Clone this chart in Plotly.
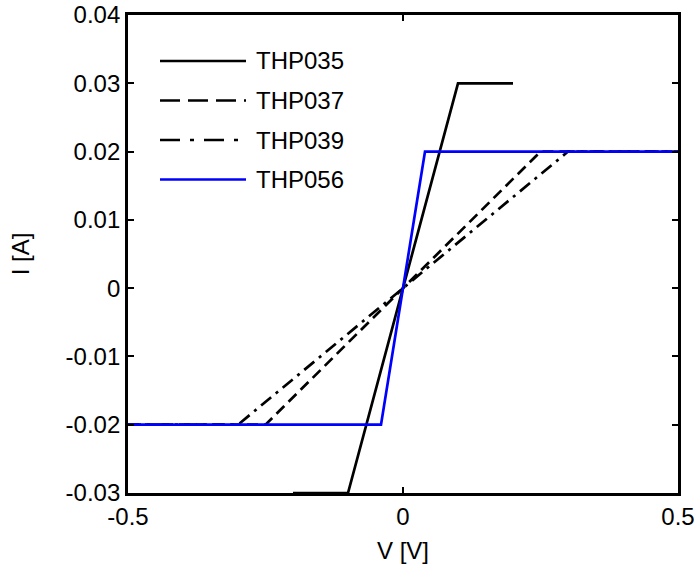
import plotly.graph_objects as go

# I-V characteristics of the four samples
v_thp035 = [-0.2, -0.1, 0.1, 0.2]
i_thp035 = [-0.03, -0.03, 0.03, 0.03]

v_thp037 = [-0.5, -0.25, 0.25, 0.5]
i_thp037 = [-0.02, -0.02, 0.02, 0.02]

v_thp039 = [-0.5, -0.3, 0.3, 0.5]
i_thp039 = [-0.02, -0.02, 0.02, 0.02]

v_thp056 = [-0.5, -0.04, 0.04, 0.5]
i_thp056 = [-0.02, -0.02, 0.02, 0.02]

series_names = ["THP035", "THP037", "THP039", "THP056"]
series_v = [v_thp035, v_thp037, v_thp039, v_thp056]
series_i = [i_thp035, i_thp037, i_thp039, i_thp056]
series_color = ["black", "black", "black", "#0000ff"]
series_dash = ["solid", "11px,6px", "13px,6px,3px,6px", "solid"]

x_ticks = [-0.5, 0, 0.5]
x_ticktext = ["-0.5", "0", "0.5"]
y_ticks = [-0.03, -0.02, -0.01, 0, 0.01, 0.02, 0.03, 0.04]
y_ticktext = ["-0.03", "-0.02", "-0.01", "0", "0.01", "0.02", "0.03", "0.04"]

FONT = "Liberation Sans, Arial, sans-serif"

fig = go.Figure()
for name, v, i, c, d in zip(series_names, series_v, series_i, series_color, series_dash):
    fig.add_trace(go.Scatter(x=v, y=i, mode="lines", name=name,
                             line=dict(color=c, width=2.7, dash=d),
                             showlegend=False))

# hand-drawn legend in the upper-left corner of the axes
legend_dash = ["solid", "20px,8px", "20px,10px,4px,10px", "solid"]
W, H = 550.0, 478.0
x0p, x1p, xtp = (160 - 128) / W, (246 - 128) / W, (254 - 128) / W
for k, (name, c, d) in enumerate(zip(series_names, series_color, legend_dash)):
    yp = (493 - (61 + 39.5 * k)) / H
    fig.add_shape(type="line", xref="paper", yref="paper",
                  x0=x0p, x1=x1p, y0=yp, y1=yp,
                  line=dict(color=c, width=2.7, dash=d))
    fig.add_annotation(xref="paper", yref="paper", x=xtp, y=yp,
                       text=name, showarrow=False, xanchor="left", yanchor="middle",
                       font=dict(family=FONT, size=24, color="black"))

axis_common = dict(showline=True, linecolor="black", linewidth=2.8, mirror="ticks",
                   ticks="inside", ticklen=6, tickwidth=2, tickcolor="black",
                   showgrid=False, zeroline=False,
                   tickfont=dict(family=FONT, size=24, color="black"))

fig.update_xaxes(range=[-0.5, 0.5], tickvals=x_ticks, ticktext=x_ticktext,
                 title=dict(text="V [V]", font=dict(family=FONT, size=24, color="black"),
                            standoff=14),
                 **axis_common)
fig.update_yaxes(range=[-0.03, 0.04], tickvals=y_ticks, ticktext=y_ticktext,
                 title=dict(text="I [A]", font=dict(family=FONT, size=24, color="black"),
                            standoff=30),
                 **axis_common)

fig.update_layout(width=698, height=575,
                  margin=dict(l=128, r=20, t=15, b=82, autoexpand=False),
                  plot_bgcolor="white", paper_bgcolor="white",
                  showlegend=False)

fig.write_html("out.html")
